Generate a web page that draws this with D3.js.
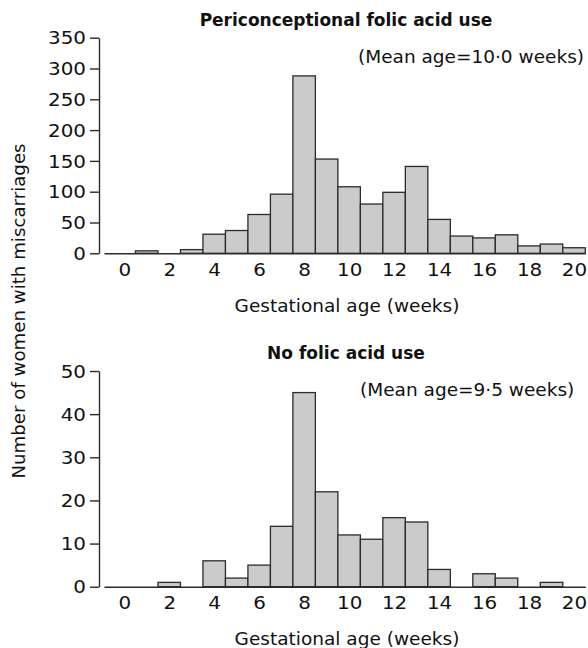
<!DOCTYPE html>
<html>
<head>
<meta charset="utf-8">
<script src="https://cdn.jsdelivr.net/npm/d3@7"></script>
<style>
  body { margin: 0; background: #fff; }
  text { font-family: "DejaVu Sans", sans-serif; fill: #111; }
</style>
</head>
<body>
<div id="viz"></div>
<script>
// gestational week of each bar
var weeks = [0, 1, 2, 3, 4, 5, 6, 7, 8, 9, 10, 11, 12, 13, 14, 15, 16, 17, 18, 19, 20];
// women with miscarriages per week
var folicCounts   = [0, 4, 0, 6, 31, 37, 63, 96, 288, 153, 108, 80, 99, 141, 55, 28, 25, 30, 12, 15, 9];
var noFolicCounts = [0, 0, 1, 0, 6, 2, 5, 14, 45, 22, 12, 11, 16, 15, 4, 0, 3, 2, 0, 1, 0];
var xTicks = [0, 2, 4, 6, 8, 10, 12, 14, 16, 18, 20];
var folicYTicks = [0, 50, 100, 150, 200, 250, 300, 350];
var noFolicYTicks = [0, 10, 20, 30, 40, 50];

var titles = ["Periconceptional folic acid use", "No folic acid use"];
var meanLabels = ["(Mean age=10\u00b70 weeks)", "(Mean age=9\u00b75 weeks)"];
var xTitle = "Gestational age (weeks)";
var yTitle = "Number of women with miscarriages";

var width = 588, height = 648;
var barFill = "#cbcbcb", ink = "#2b2b2b";
var sx = 1.17; // digits in the original are wide, stretch them

var svg = d3.select("#viz")
  .append("svg")
    .attr("width", width)
    .attr("height", height);

// x scale shared by both panels (bars centred on whole weeks)
var x = d3.scaleLinear()
    .domain([-0.9, 20.5])
    .range([104, 585.25]);

function panel(counts, yTicks, yMax, top, bottom, i, mean) {
  var y = d3.scaleLinear()
      .domain([0, yMax])
      .range([bottom, top]);

  var data = weeks.map(function(w, k) { return {week: w, n: counts[k]}; })
      .filter(function(d) { return d.n > 0; });

  var g = svg.append("g");

  // bars
  g.selectAll("rect")
    .data(data)
    .enter()
    .append("rect")
      .attr("x", function(d) { return x(d.week - 0.5); })
      .attr("width", x(1) - x(0))
      .attr("y", function(d) { return y(d.n); })
      .attr("height", function(d) { return y(0) - y(d.n); })
      .attr("fill", barFill)
      .attr("stroke", ink)
      .attr("stroke-width", 1.3);

  // y axis
  var ya = g.append("g")
      .attr("transform", "translate(99,0)")
      .call(d3.axisLeft(y).tickValues(yTicks).tickSize(9).tickSizeOuter(0).tickPadding(4));
  ya.select(".domain").attr("stroke", ink).attr("stroke-width", 1.4);
  ya.selectAll(".tick line").attr("stroke", ink).attr("stroke-width", 1.4);
  ya.selectAll(".tick text")
      .attr("font-family", "DejaVu Sans")
      .attr("font-size", 17)
      .attr("x", -13 / sx)
      .attr("dy", "0.36em")
      .attr("transform", "scale(" + sx + ",1)");

  // x axis
  var xa = g.append("g")
      .attr("transform", "translate(0," + y(0) + ")")
      .call(d3.axisBottom(x).tickValues(xTicks).tickSize(0).tickSizeOuter(0).tickPadding(9));
  xa.select(".domain").attr("stroke", ink).attr("stroke-width", 1.6);
  xa.selectAll(".tick text")
      .attr("font-family", "DejaVu Sans")
      .attr("font-size", 17)
      .attr("dy", "0.78em")
      .attr("transform", "scale(" + sx + ",1)");

  // title
  g.append("text")
      .attr("x", 346)
      .attr("y", top - 12)
      .attr("text-anchor", "middle")
      .attr("font-weight", "bold")
      .attr("font-size", 17)
      .text(titles[i]);

  // mean label
  g.append("text")
      .attr("x", mean[0])
      .attr("y", mean[1])
      .attr("text-anchor", "end")
      .attr("font-size", 18.5)
      .text(meanLabels[i]);

  // x title
  g.append("text")
      .attr("x", 347)
      .attr("y", bottom + 58.5)
      .attr("text-anchor", "middle")
      .attr("font-size", 18.5)
      .text(xTitle);
}

panel(folicCounts, folicYTicks, 350, 37.7, 253.3, 0, [584, 62.7]);
panel(noFolicCounts, noFolicYTicks, 50, 371, 586.7, 1, [574.3, 396]);

// shared y title
svg.append("text")
    .attr("transform", "translate(25.3,311) rotate(-90)")
    .attr("text-anchor", "middle")
    .attr("font-size", 18.2)
    .text(yTitle);
</script>
</body>
</html>
